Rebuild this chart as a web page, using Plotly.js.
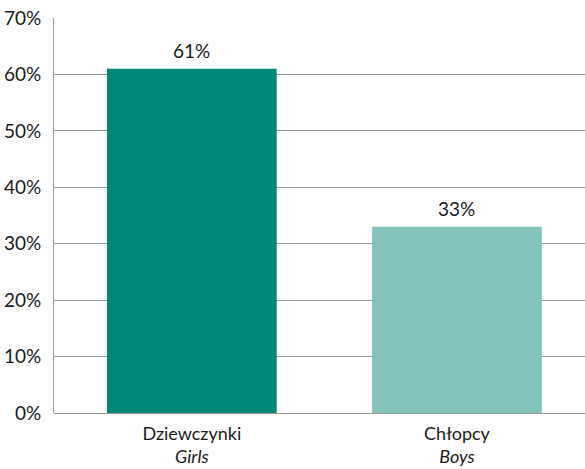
<!DOCTYPE html>
<html><head><meta charset="utf-8">
<script src="https://cdn.plot.ly/plotly-3.0.1.min.js"></script>
<style>body{margin:0;background:#fff}#c{width:585px;height:469px}</style>
</head><body><div id="c"></div>
<script>
const categories = ["Dziewczynki", "Chłopcy"];
const categoriesEn = ["Girls", "Boys"];
const values = [61, 33];
const colors = ["#00877a", "#83c2bb"];

const F = "'Liberation Sans Narrow', Lato, sans-serif";
const tickText = categories.map((c, i) => c + "<br><i>" + categoriesEn[i] + "</i>");

Plotly.newPlot("c", [{
  type: "bar",
  x: [0, 1],
  y: values,
  width: 0.64,
  marker: {color: colors},
  hoverinfo: "none"
}], {
  width: 585, height: 469,
  margin: {l: 54, r: 0, t: 18, b: 56, pad: 0},
  paper_bgcolor: "#fff", plot_bgcolor: "#fff",
  showlegend: false,
  font: {family: F, size: 19, color: "#1a1a1a"},
  annotations: values.map((v, i) => ({
    x: i, y: v, xref: "x", yref: "y",
    text: v + "%", showarrow: false,
    yanchor: "bottom", yshift: 5,
    font: {family: F, size: 19, color: "#1a1a1a"}
  })),
  xaxis: {
    range: [-0.52, 1.483],
    tickvals: [0, 1], ticktext: tickText,
    showgrid: false, zeroline: false,
    showline: false, ticks: "",
    ticklabelstandoff: 8,
    tickfont: {family: F, size: 18, color: "#1a1a1a"}
  },
  yaxis: {
    range: [0, 70], dtick: 10, ticksuffix: "%",
    showgrid: true, gridcolor: "#9a9a9a", gridwidth: 1,
    zeroline: true, zerolinecolor: "#9a9a9a", zerolinewidth: 1,
    showline: true, linecolor: "#9a9a9a", linewidth: 1,
    ticks: "", ticklabelstandoff: 8,
    tickfont: {family: F, size: 19, color: "#1a1a1a"}
  }
}, {displayModeBar: false, staticPlot: true});
</script></body></html>
